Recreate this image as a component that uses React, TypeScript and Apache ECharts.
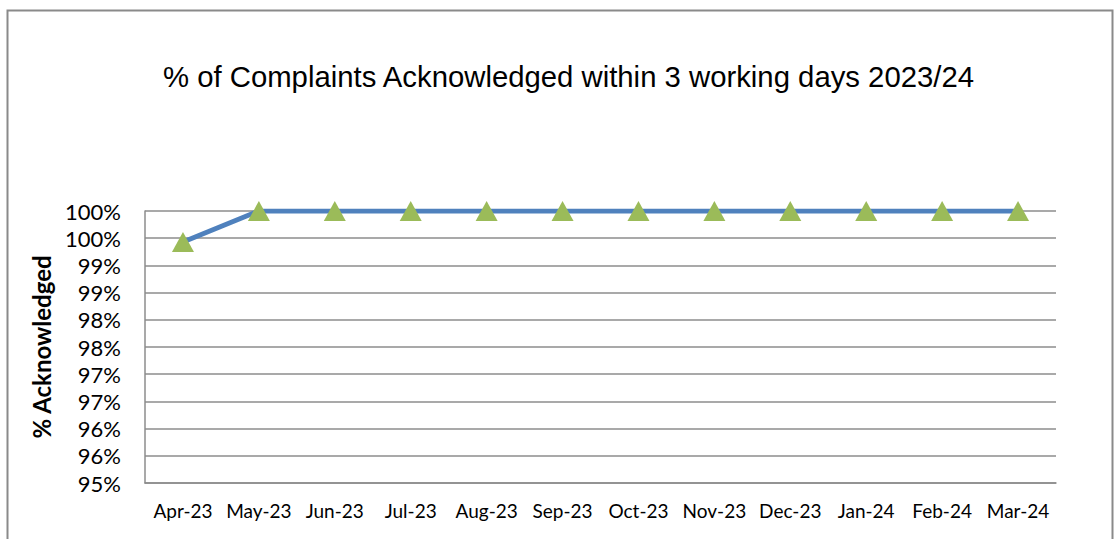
import React, { useEffect, useRef } from "react";
import * as echarts from "echarts";

const months = ["Apr-23", "May-23", "Jun-23", "Jul-23", "Aug-23", "Sep-23", "Oct-23", "Nov-23", "Dec-23", "Jan-24", "Feb-24", "Mar-24"];
const acknowledged = [99.43, 100, 100, 100, 100, 100, 100, 100, 100, 100, 100, 100];
const yMin = 95;
const yMax = 100;
const yStep = 0.5;
const titleText = "% of Complaints Acknowledged within 3 working days 2023/24";
const yAxisTitle = "% Acknowledged";

export default function App() {
  const ref = useRef<HTMLDivElement>(null);
  useEffect(() => {
    if (!ref.current) return;
    const chart = echarts.init(ref.current, null, { renderer: "svg" });
    chart.setOption({
      animation: false,
      backgroundColor: "#ffffff",
      title: {
        text: titleText,
        left: 158,
        top: 57,
        textStyle: { fontFamily: "Liberation Sans", fontSize: 29.3, fontWeight: "normal", color: "#000" },
      },
      graphic: [
        {
          type: "rect",
          shape: { x: 7.5, y: 10.5, width: 1105, height: 560 },
          style: { fill: "none", stroke: "#8a8a8a", lineWidth: 2 },
          silent: true,
        },
      ],
      grid: { left: 145, right: 59, top: 211, bottom: 56 },
      xAxis: {
        type: "category",
        data: months,
        boundaryGap: true,
        axisLine: { show: true, lineStyle: { color: "#8c8c8c", width: 1.5 } },
        axisTick: { show: false },
        axisLabel: { color: "#000", fontFamily: "Lato", fontSize: 19, margin: 18, interval: 0 },
      },
      yAxis: {
        type: "value",
        min: yMin,
        max: yMax,
        interval: yStep,
        name: yAxisTitle,
        nameLocation: "middle",
        nameGap: 92,
        nameTextStyle: { fontFamily: "Lato", fontWeight: "bold", fontSize: 24, color: "#000" },
        axisLine: { show: true, lineStyle: { color: "#8c8c8c", width: 1.5 } },
        axisTick: { show: false },
        axisLabel: {
          color: "#000",
          fontFamily: "Lato",
          fontSize: 22,
          margin: 24,
          formatter: (v: number) => Math.round(v) + "%",
        },
        splitLine: { show: true, lineStyle: { color: "#8c8c8c", width: 1.5 } },
      },
      series: [
        {
          type: "line",
          data: acknowledged,
          lineStyle: { color: "#4F81BD", width: 5 },
          itemStyle: { color: "#9BBB59" },
          symbol: "triangle",
          symbolSize: [22, 20],
          showSymbol: true,
          z: 3,
        },
      ],
    });
    return () => chart.dispose();
  }, []);
  return <div ref={ref} style={{ position: "fixed", left: 0, top: 0, width: 1115, height: 539 }} />;
}
